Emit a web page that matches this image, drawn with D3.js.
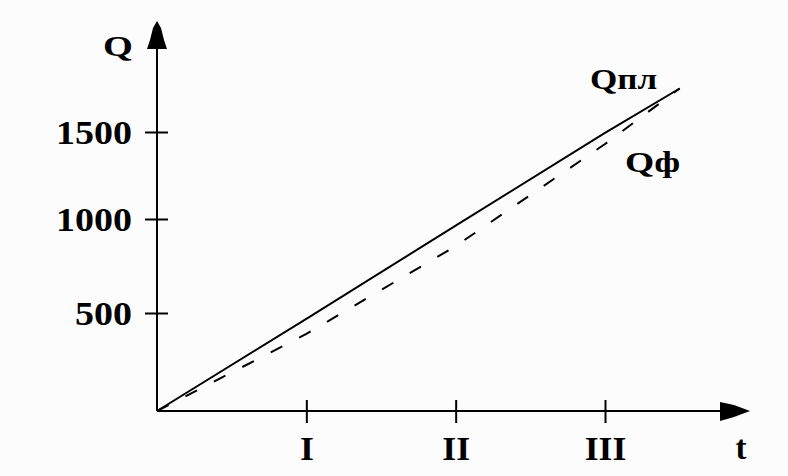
<!DOCTYPE html>
<html>
<head>
<meta charset="utf-8">
<script src="https://cdn.jsdelivr.net/npm/d3@7/dist/d3.min.js"></script>
<style>
	body { margin: 0; background: #fcfcfc; }
	svg { display: block; }
	text { font-family: "Liberation Serif", "Times New Roman", serif; font-weight: bold; fill: #000; }
</style>
</head>
<body>
<script>
// periods on the t axis
var periodTicks = [1, 2, 3];
var periodLabels = ["", "I", "II", "III"];
// Q ticks
var qTicks = [500, 1000, 1500];
// t positions of the points
var tPoints = [0, 1, 2, 3, 3.5];
// planned output Qпл (solid) and actual Qф (dashed)
var planValues = [0, 470, 965, 1495, 1750];
var factValues = [0, 393, 856, 1431, 1750];

var _width = 788, _height = 476;

// the scanned font is a little wider than Liberation Serif
function stretch (sel, k) {
	sel.each(function () {
		var w = this.getComputedTextLength();
		this.setAttribute('textLength', w * k);
		this.setAttribute('lengthAdjust', 'spacingAndGlyphs');
	});
}

var svg = d3.select('body').append('svg')
	.classed('mainsvg', true)
	.attr('width', _width)
	.attr('height', _height);

var x = d3.scaleLinear()
	.domain([0, 3])
	.range([157, 605]);

var y = d3.scaleLinear()
	.domain([0, 500, 1000, 1500])
	.range([411, 313, 219, 132]);

var ox = x(0), oy = y(0);

// y axis
var yAxis = svg.append('g')
	.attr('transform', 'translate(' + ox + ',0)')
	.call(d3.axisLeft(y).tickValues(qTicks).tickSize(12).tickPadding(13).tickFormat(d3.format('d')));
yAxis.select('.domain').remove();
yAxis.selectAll('.tick line')
	.attr('x1', 11)
	.attr('stroke', '#000')
	.attr('stroke-width', 2);
yAxis.selectAll('.tick text')
	.attr('font-size', '33px')
	.attr('font-family', '"Liberation Serif", serif')
	.attr('font-weight', 'bold')
	.attr('fill', '#000')
	.attr('dy', '0.34em')
	.call(stretch, 1.15);

svg.append('line')
	.attr('x1', ox).attr('x2', ox)
	.attr('y1', oy).attr('y2', 45)
	.attr('stroke', '#000')
	.attr('stroke-width', 2);

svg.append('path')
	.attr('d', 'M' + (ox - 10) + ',49 L' + (ox - 7) + ',40 L' + (ox - 4) + ',28 L' + ox + ',21 L' + (ox + 4) + ',28 L' + (ox + 7) + ',40 L' + (ox + 10) + ',49 Z')
	.attr('fill', '#000');

// x axis
var xAxis = svg.append('g')
	.attr('transform', 'translate(0,' + oy + ')')
	.call(d3.axisBottom(x).tickValues(periodTicks).tickSize(12).tickPadding(14).tickFormat(function (d) { return periodLabels[d]; }));
xAxis.select('.domain').remove();
xAxis.selectAll('.tick line')
	.attr('y1', -11)
	.attr('stroke', '#000')
	.attr('stroke-width', 2);
xAxis.selectAll('.tick text')
	.attr('font-size', '33px')
	.attr('font-family', '"Liberation Serif", serif')
	.attr('font-weight', 'bold')
	.attr('fill', '#000')
	.call(stretch, 1.08);

svg.append('line')
	.attr('x1', ox).attr('x2', 724)
	.attr('y1', oy).attr('y2', oy)
	.attr('stroke', '#000')
	.attr('stroke-width', 2);

svg.append('path')
	.attr('d', 'M720,' + (oy - 9) + ' L734,' + (oy - 6) + ' L742,' + (oy - 3) + ' L750,' + oy + ' L742,' + (oy + 3) + ' L734,' + (oy + 6) + ' L720,' + (oy + 10) + ' Z')
	.attr('fill', '#000');

// axis titles
svg.append('text')
	.attr('x', 118)
	.attr('y', 56)
	.attr('font-size', '30px')
	.style('text-anchor', 'middle')
	.text('Q')
	.call(stretch, 1.28);

svg.append('text')
	.attr('x', 741)
	.attr('y', 459)
	.attr('font-size', '33px')
	.style('text-anchor', 'middle')
	.text('t');

// lines
var line = d3.line()
	.x(function (d) { return x(d[0]); })
	.y(function (d) { return y(d[1]); });

svg.append('path')
	.datum(d3.zip(tPoints, factValues))
	.attr('d', line)
	.attr('fill', 'none')
	.attr('stroke', '#000')
	.attr('stroke-width', 2)
	.attr('stroke-dasharray', '13,19');

svg.append('path')
	.datum(d3.zip(tPoints, planValues))
	.attr('d', line)
	.attr('fill', 'none')
	.attr('stroke', '#000')
	.attr('stroke-width', 2);

// series labels
svg.append('text')
	.attr('x', 590)
	.attr('y', 89)
	.attr('font-size', '30px')
	.style('text-anchor', 'start')
	.text('Qпл')
	.call(stretch, 1.17);

svg.append('text')
	.attr('x', 625)
	.attr('y', 172)
	.attr('font-size', '30px')
	.style('text-anchor', 'start')
	.text('Qф')
	.call(stretch, 1.25);
</script>
</body>
</html>
